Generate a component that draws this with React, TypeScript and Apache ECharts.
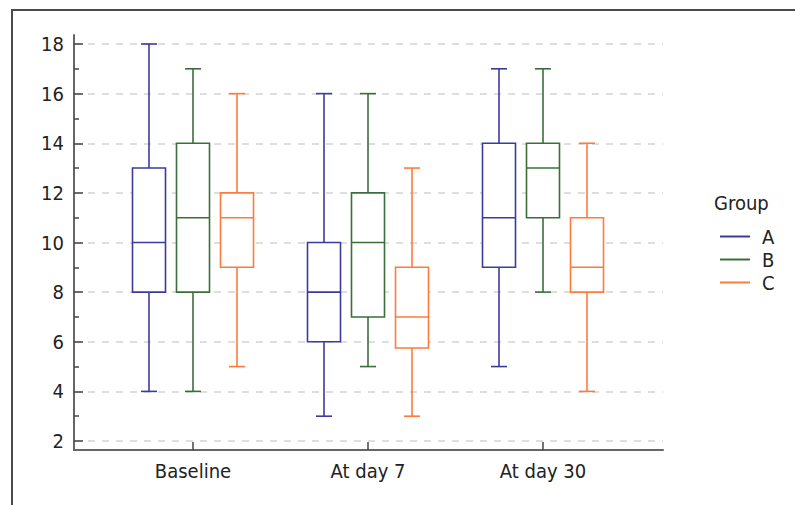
import React, { useEffect, useRef } from "react";
import * as echarts from "echarts";

const categories = ["Baseline", "At day 7", "At day 30"];
const groupNames = ["A", "B", "C"];
// [min, Q1, median, Q3, max] per category
const groupA = [
  [4, 8, 10, 13, 18],
  [3, 6, 8, 10, 16],
  [5, 9, 11, 14, 17],
];
const groupB = [
  [4, 8, 11, 14, 17],
  [5, 7, 10, 12, 16],
  [8, 11, 13, 14, 17],
];
const groupC = [
  [5, 9, 11, 12, 16],
  [3, 5.75, 7, 9, 13],
  [4, 8, 9, 11, 14],
];
const groupColors = ["#3b3b9e", "#3b6e3b", "#ff7b3b"];
const yTicks = { min: 2, max: 18, interval: 2 };

const FONT = "'DejaVu Sans Condensed', 'Liberation Sans Narrow', 'Roboto', sans-serif";
const FS = 20;

export default function App() {
  const ref = useRef<HTMLDivElement>(null);
  useEffect(() => {
    if (!ref.current) return;
    const chart = echarts.init(ref.current, null, { renderer: "svg" });
    const groups = [groupA, groupB, groupC];
    const offsets = [-44 / 175, 0, 44 / 175];
    const boxFrac = 33 / 175;
    const capFrac = 16 / 175;

    const series = groups.map((g, si) => ({
      name: groupNames[si],
      type: "custom",
      xAxisIndex: 0,
      yAxisIndex: 0,
      clip: false,
      itemStyle: { color: groupColors[si] },
      encode: { x: 0, y: [1, 2, 3, 4, 5] },
      data: g.map((v, i) => [i, ...v]),
      renderItem: (params: any, api: any) => {
        const ci = api.value(0);
        const band = api.size([1, 0])[0];
        const cx = api.coord([ci, 0])[0] + offsets[si] * band;
        const y = (k: number) => api.coord([ci, api.value(k)])[1];
        const yMin = y(1), yQ1 = y(2), yMed = y(3), yQ3 = y(4), yMax = y(5);
        const bw = band * boxFrac;
        const cw = band * capFrac;
        const st = { stroke: groupColors[si], lineWidth: 1.6, fill: "none" };
        return {
          type: "group",
          children: [
            { type: "line", shape: { x1: cx, y1: yQ3, x2: cx, y2: yMax }, style: st },
            { type: "line", shape: { x1: cx, y1: yQ1, x2: cx, y2: yMin }, style: st },
            { type: "line", shape: { x1: cx - cw / 2, y1: yMax, x2: cx + cw / 2, y2: yMax }, style: st },
            { type: "line", shape: { x1: cx - cw / 2, y1: yMin, x2: cx + cw / 2, y2: yMin }, style: st },
            { type: "rect", shape: { x: cx - bw / 2, y: yQ3, width: bw, height: yQ1 - yQ3 }, style: { ...st, fill: "#fff" } },
            { type: "line", shape: { x1: cx - bw / 2, y1: yMed, x2: cx + bw / 2, y2: yMed }, style: st },
          ],
        };
      },
    }));

    chart.setOption({
      animation: false,
      backgroundColor: "#fff",
      textStyle: { fontFamily: FONT },
      title: {
        text: "Group",
        left: 709,
        top: 188,
        textStyle: { fontFamily: FONT, fontSize: FS, fontWeight: "normal", color: "#222" },
      },
      legend: {
        orient: "vertical",
        left: 715,
        top: 221,
        itemWidth: 30,
        itemHeight: 2,
        itemGap: 2,
        icon: "rect",
        data: groupNames,
        textStyle: { fontFamily: FONT, fontSize: FS, color: "#222", lineHeight: 21, padding: [0, 0, 0, 7] },
      },
      graphic: [
        {
          type: "rect",
          shape: { x: 12, y: 10, width: 820, height: 520 },
          style: { fill: "none", stroke: "#4a4a4a", lineWidth: 2 },
          silent: true,
        },
      ],
      grid: [
        { left: 105.5, width: 525, top: 44, height: 397 },
        { left: 74, width: 589, top: 44, height: 397 },
        { left: 74, width: 589, top: 35, height: 415 },
      ],
      xAxis: [
        {
          gridIndex: 0,
          type: "category",
          data: categories,
          offset: 9,
          axisLine: { show: false },
          axisTick: { show: true, inside: true, length: 8, alignWithLabel: true, lineStyle: { color: "#444", width: 1.5 } },
          axisLabel: { fontFamily: FONT, fontSize: FS, color: "#222", margin: 11 },
          splitLine: { show: false },
        },
        {
          gridIndex: 1,
          type: "category",
          data: categories,
          offset: 9,
          axisLine: { show: true, lineStyle: { color: "#666", width: 2 } },
          axisTick: { show: false },
          axisLabel: { show: false },
          splitLine: { show: false },
        },
        { gridIndex: 2, type: "category", data: categories, show: false },
      ],
      yAxis: [
        { gridIndex: 0, type: "value", min: yTicks.min, max: yTicks.max, show: false },
        {
          gridIndex: 1,
          type: "value",
          min: yTicks.min,
          max: yTicks.max,
          interval: yTicks.interval,
          axisLine: { show: false },
          axisTick: { show: true, inside: true, length: 9, lineStyle: { color: "#444", width: 1.5 } },
          minorTick: { show: true, splitNumber: 2, length: 5, lineStyle: { color: "#444", width: 1.5 } },
          axisLabel: { fontFamily: FONT, fontSize: FS, color: "#222", margin: 10 },
          splitLine: { show: true, lineStyle: { color: "#d4d4d4", width: 1.5, type: [7, 7] } },
        },
        {
          gridIndex: 2,
          type: "value",
          min: 0,
          max: 1,
          axisLine: { show: true, lineStyle: { color: "#666", width: 2 } },
          axisTick: { show: false },
          axisLabel: { show: false },
          splitLine: { show: false },
        },
      ],
      series,
    });
    return () => chart.dispose();
  }, []);
  return (
    <div
      ref={ref}
      style={{ position: "fixed", left: 0, top: 0, width: 795, height: 505 }}
    />
  );
}
